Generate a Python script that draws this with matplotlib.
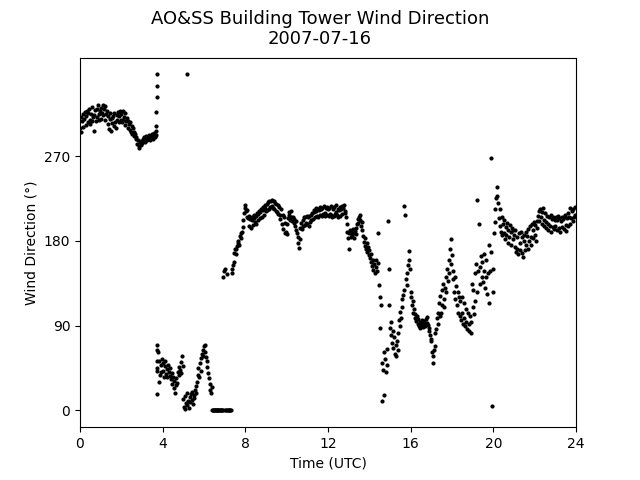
import numpy as np
import matplotlib
matplotlib.use("Agg")
import matplotlib.pyplot as plt

# Wind direction (degrees), 2-minute samples, one row per UTC hour
wind_dir = [
    # 00
    300, 312, 296, 308, 315, 301, 310, 317, 303, 313, 318, 306, 316, 320, 304, 309, 315, 322, 307, 312, 297, 314, 319, 308, 312, 320, 324, 309, 315, 318,
    # 01
    310, 321, 316, 325, 314, 320, 323, 309, 315, 318, 304, 313, 299, 310, 316, 297, 311, 305, 313, 302, 316, 306, 300, 314, 309, 317, 306, 313, 318, 309,
    # 02
    315, 306, 318, 309, 312, 303, 316, 307, 311, 300, 308, 304, 298, 306, 296, 302, 294, 300, 296, 292, 294, 288, 290, 283, 287, 281, 279, 285, 282, 286,
    # 03
    284, 288, 286, 290, 285, 289, 292, 287, 291, 288, 293, 289, 287, 292, 290, 294, 288, 292, 295, 290, 297, 293, 45, 62, 30, 52, 38, 48, 41, 55,
    # 04
    42, 50, 36, 47, 53, 39, 44, 35, 48, 41, 37, 45, 33, 40, 28, 36, 24, 31, 19, 27, 34, 29, 41, 38, 46, 43, 51, 40, 58, 47,
    # 05
    12, 4, 15, 2, 8, 18, 6, 10, 3, 14, 9, 17, 11, 20, 7, 16, 13, 22, 19, 26, 30, 38, 45, 35, 50, 42, 56, 60, 64, 58,
    # 06
    68, 62, 70, 57, 52, 46, 40, 34, 28, 22, 19, 25, 0, 0, 0, 0, 0, 0, 0, 0, 0, 0, 0, 0, 0, 0, 0, 142, 0, 148,
    # 07
    0, 150, 0, 0, 145, 0, 0, 0, 0, 0, 146, 150, 155, 158, 167, 171, 166, 172, 175, 178, 180, 176, 185, 183, 188, 190, 195, 202, 210, 215,
    # 08
    218, 212, 206, 213, 204, 207, 196, 203, 194, 202, 206, 197, 204, 208, 200, 198, 207, 210, 202, 209, 212, 204, 211, 214, 206, 213, 216, 208, 215, 218,
    # 09
    212, 219, 213, 221, 214, 222, 216, 223, 217, 224, 215, 222, 214, 220, 212, 219, 211, 218, 209, 216, 208, 203, 214, 198, 208, 193, 205, 188, 199, 190,
    # 10
    187, 198, 204, 208, 211, 202, 212, 205, 201, 206, 203, 199, 196, 192, 201, 188, 184, 178, 173, 182, 194, 199, 193, 202, 196, 205, 197, 206, 199, 207,
    # 11
    198, 205, 196, 207, 200, 208, 202, 210, 203, 211, 213, 205, 212, 215, 207, 214, 206, 213, 216, 208, 214, 207, 215, 209, 217, 210, 207, 215, 208, 216,
    # 12
    214, 207, 215, 209, 217, 208, 206, 214, 207, 216, 209, 218, 211, 208, 214, 206, 213, 216, 207, 214, 217, 209, 215, 218, 210, 212, 205, 198, 190, 183,
    # 13
    172, 188, 192, 184, 190, 186, 193, 189, 183, 191, 187, 194, 198, 203, 199, 206, 208, 202, 196, 200, 192, 185, 179, 183, 175, 171, 178, 168, 174, 165,
    # 14
    170, 162, 166, 158, 153, 160, 149, 156, 146, 152, 160, 148, 189, 157, 133, 120, 88, 112, 50, 10, 43, 62, 16, 55, 41, 65, 48, 201, 150, 112,
    # 15
    88, 94, 80, 72, 84, 66, 78, 60, 70, 58, 74, 64, 82, 96, 90, 105, 98, 118, 110, 123, 217, 128, 208, 140, 133, 146, 155, 160, 169, 150,
    # 16
    120, 126, 112, 116, 104, 108, 98, 102, 95, 100, 92, 97, 90, 94, 88, 93, 96, 91, 89, 95, 92, 90, 97, 93, 99, 91, 88, 84, 80, 76,
    # 17
    74, 62, 58, 50, 64, 68, 82, 86, 98, 104, 92, 114, 100, 122, 104, 128, 112, 134, 118, 110, 130, 142, 126, 150, 138, 160, 146, 172, 156, 182,
    # 18
    165, 148, 140, 126, 142, 118, 132, 112, 126, 104, 120, 100, 116, 96, 120, 104, 92, 114, 98, 90, 108, 94, 86, 104, 92, 84, 100, 82, 94, 134,
    # 19
    110, 128, 102, 146, 116, 156, 126, 224, 148, 198, 152, 134, 164, 142, 158, 136, 166, 148, 130, 160, 142, 124, 146, 114, 176, 148, 168, 268, 5, 126,
    # 20
    150, 188, 200, 214, 226, 237, 228, 220, 204, 214, 196, 190, 206, 186, 198, 188, 202, 182, 195, 186, 199, 178, 192, 184, 197, 176, 190, 194, 182, 192,
    # 21
    186, 174, 192, 168, 184, 172, 166, 188, 178, 170, 190, 167, 184, 163, 180, 186, 170, 190, 176, 185, 172, 193, 180, 196, 184, 176, 198, 183, 192, 200,
    # 22
    186, 197, 180, 194, 201, 207, 212, 201, 214, 205, 198, 211, 215, 202, 196, 210, 200, 194, 207, 198, 192, 205, 196, 208, 190, 203, 195, 206, 193, 202,
    # 23
    196, 205, 192, 202, 207, 194, 204, 190, 201, 206, 195, 203, 193, 205, 208, 197, 191, 204, 210, 196, 206, 198, 215, 204, 212, 201, 214, 206, 216, 208,
]
sample_minutes = 2

# Extra 1-minute observations during the rapid wind shift and the lone north reading
extra_time = [3.69, 3.70, 3.71, 3.72, 3.73, 3.72, 3.725, 3.73, 3.735, 3.74, 5.16]
extra_dir = [302, 317, 333, 345, 357, 69, 64, 53, 42, 17, 357]

time_hours = np.arange(len(wind_dir)) * sample_minutes / 60.0

fig, ax = plt.subplots(figsize=(6.4, 4.8), dpi=100)
ax.plot(time_hours, wind_dir, 'k.', markersize=4)
ax.plot(extra_time, extra_dir, 'k.', markersize=4)
ax.set_xlim(0, 24)
ax.set_xticks(np.arange(0, 25, 4))
ax.set_yticks([0, 90, 180, 270])
ax.set_xlabel('Time (UTC)')
ax.set_ylabel('Wind Direction (°)')
fig.suptitle('AO&SS Building Tower Wind Direction\n2007-07-16', fontsize=13)
fig.savefig('out.png', dpi=100)
